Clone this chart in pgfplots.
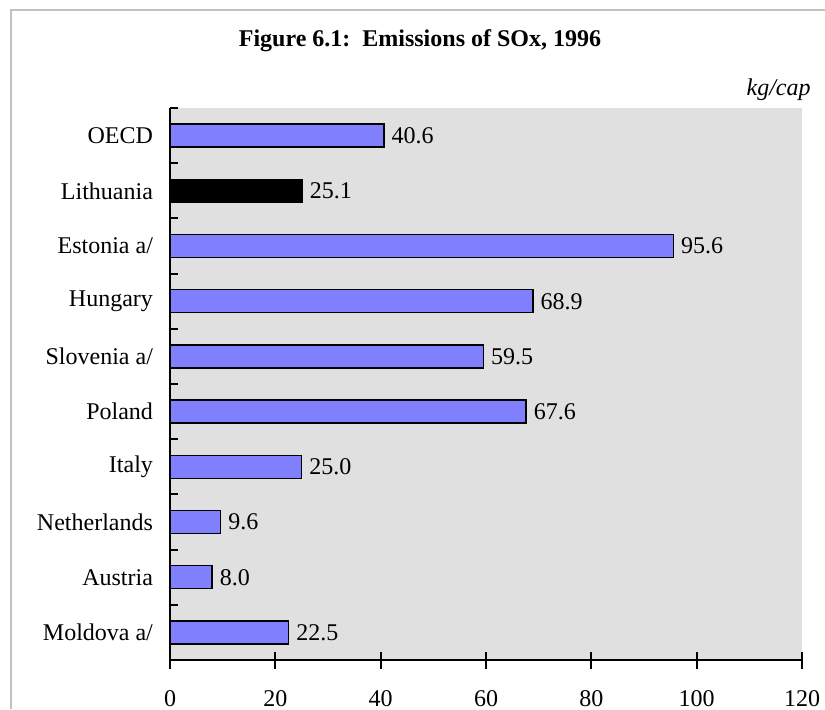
\documentclass[border=0pt]{standalone}
\usepackage{fontspec}
\setmainfont{Liberation Serif}
\usepackage{pgfplots}
\pgfplotsset{compat=1.18}
\definecolor{barblue}{HTML}{8080FF}
\definecolor{bggray}{HTML}{E0E0E0}
\definecolor{framegray}{HTML}{C0C0C0}
\begin{document}
\begin{tikzpicture}
\useasboundingbox (0,0) rectangle (412.5pt,354.5pt);
\draw[framegray, line width=1pt] (5.5pt,0) -- (5.5pt,349.5pt) -- (412.5pt,349.5pt);
\node[font=\fontsize{12}{14}\selectfont\bfseries, anchor=base, inner sep=0] at (210pt,331pt) {Figure 6.1:\ \ Emissions of SOx, 1996};
\node[font=\fontsize{12}{14}\selectfont\itshape, anchor=base east, inner sep=0] at (405.5pt,307pt) {kg/cap};
\begin{axis}[
  at={(85pt,24.5pt)}, anchor=south west,
  width=316pt, height=276pt, scale only axis,
  xbar, bar width=11.5pt, bar shift=0pt,
  xmin=0, xmax=120, ymin=-0.5, ymax=9.5,
  axis background/.style={fill=bggray},
  axis x line*=bottom, axis y line*=left,
  axis line style={line width=1pt, black, -},
  xtick={0,20,...,120},
  ytick={0,...,9},
  yticklabels={Moldova a/, Austria, Netherlands, Italy, Poland, Slovenia a/, Hungary, Estonia a/, Lithuania, OECD},
  minor ytick={0.5,1.5,...,9.5},
  major tick length=8.5pt, minor tick length=4pt,
  xtick align=center, ytick align=inside,
  every major y tick/.style={draw=none},
  every tick/.style={black, line width=1pt},
  tick label style={font=\fontsize{12}{14}\selectfont},
  xticklabel style={yshift=-7.5pt},
  yticklabel style={xshift=-5pt},
  /pgf/number format/assume math mode=true,
  nodes near coords={\pgfmathprintnumber[fixed,fixed zerofill,precision=1,assume math mode=true]{\pgfplotspointmeta}},
  nodes near coords style={font=\fontsize{12}{14}\selectfont, black, inner sep=3.5pt},
]
\addplot[fill=barblue, draw=black, line width=0.75pt] coordinates {
  (22.5,0) (8.0,1) (9.6,2) (25.0,3) (67.6,4) (59.5,5) (68.9,6) (95.6,7) (40.6,9)
};
\addplot[fill=black, draw=black, line width=0.75pt] coordinates {
  (25.1,8)
};
\end{axis}
\end{tikzpicture}
\end{document}
